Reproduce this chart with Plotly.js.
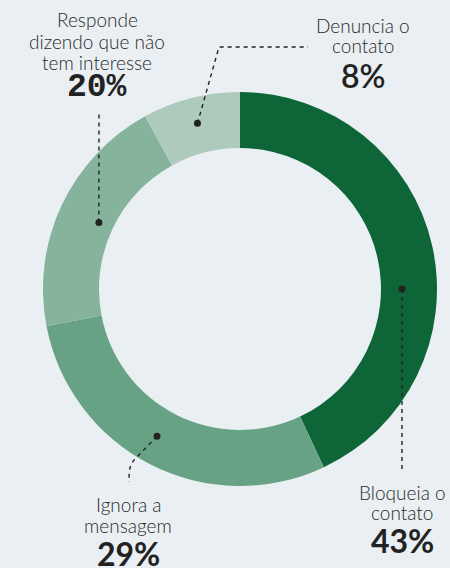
<!DOCTYPE html>
<html><head><meta charset="utf-8">
<script src="https://cdn.plot.ly/plotly-3.0.1.min.js"></script>
<style>html,body{margin:0;padding:0;background:#e9eff2;}#chart{width:450px;height:568px;}</style>
</head><body><div id="chart"></div>
<script>
// ---- data ----
const categories = ["Bloqueia o contato", "Ignora a mensagem", "Responde dizendo que não tem interesse", "Denuncia o contato"];
const values = [43, 29, 20, 8];
const labelLines = [["Bloqueia o", "contato"], ["Ignora a", "mensagem"], ["Responde", "dizendo que não", "tem interesse"], ["Denuncia o", "contato"]];
const pctLabels = ["43%", "29%", "20%", "8%"];

// ---- style / layout config ----
const W = 450, H = 568;
const colors = ["#0e6638", "#68a284", "#86b39c", "#adcabd"];
const cx = 240, cy = 289, R = 197;
// dot placement: radius and angle shift (deg) relative to slice middle
const dotCfg = [{r:162, shift:12.6}, {r:169, shift:2.4}, {r:156, shift:0}, {r:171, shift:0}];
// leader line waypoints after the dot (pixels)
const leaderCfg = [
  [[402, 472]],
  [[136, 458], "C", [130, 464], [129, 468], [129, 482]],
  [[99, 113]],
  [[219, 47], [308, 47]]
];
// text placement: center x, first line baseline, line spacing, percent baseline
const textCfg = [
  {x:402, y0:500, dy:20, py:553},
  {x:128, y0:512, dy:21, py:566},
  {x:97,  y0:27,  dy:21.5, py:100},
  {x:363, y0:33,  dy:20, py:88}
];
const pctFont = [
  {family:"Lato", size:32, color:"#222", weight:700},
  {family:"Lato", size:32, color:"#222", weight:700},
  {family:"Liberation Mono", size:33, color:"#222", weight:700},
  {family:"Lato", size:32, color:"#222", weight:600}
];
const textFont = {family:"Lato", size:19, color:"#2a2a2a", weight:300};

// ---- compute dot positions from data ----
const total = values.reduce((a,b)=>a+b,0);
let cum = 0;
const dotX = [], dotY = [];
values.forEach((v,i)=>{
  const mid = (cum + v/2)/total*360 + dotCfg[i].shift;
  cum += v;
  const a = mid*Math.PI/180;
  dotX.push(cx + dotCfg[i].r*Math.sin(a));
  dotY.push(cy - dotCfg[i].r*Math.cos(a));
});

const shapes = [];
leaderCfg.forEach((pts,i)=>{
  let d = `M${dotX[i]},${dotY[i]}`;
  let mode = "L";
  let buf = [];
  pts.forEach(p=>{
    if (p === "C") { mode = "C"; return; }
    if (mode === "L") d += ` L${p[0]},${p[1]}`;
    else { buf.push(p); if (buf.length===3){ d += ` C${buf[0][0]},${buf[0][1]} ${buf[1][0]},${buf[1][1]} ${buf[2][0]},${buf[2][1]}`; buf=[]; mode="L"; } }
  });
  shapes.push({type:"path", path:d, xref:"x", yref:"y", line:{color:"#222", width:1.4, dash:"4px,4px"}, layer:"above"});
});
const dotR = 3.5;
dotX.forEach((x,i)=>{
  shapes.push({type:"circle", xref:"x", yref:"y", x0:x-dotR, x1:x+dotR, y0:dotY[i]-dotR, y1:dotY[i]+dotR,
    fillcolor:"#222", line:{width:0}, layer:"above"});
});

const annotations = [];
labelLines.forEach((lines,i)=>{
  const c = textCfg[i];
  lines.forEach((t,j)=>{
    annotations.push({x:c.x, y:c.y0 + j*c.dy - 0.387*textFont.size, xref:"x", yref:"y", text:t, showarrow:false,
      xanchor:"center", yanchor:"middle", borderpad:0, font:textFont});
  });
  annotations.push({x:c.x, y:c.py - 0.387*pctFont[i].size, xref:"x", yref:"y", text:pctLabels[i], showarrow:false,
    xanchor:"center", yanchor:"middle", borderpad:0, font:pctFont[i]});
});

const data = [
  {type:"pie", values:values, labels:categories, sort:false, direction:"clockwise", rotation:0,
   hole:141/197, marker:{colors:colors, line:{width:0}}, textinfo:"none", hoverinfo:"none",
   showlegend:false,
   domain:{x:[(cx-R)/W, (cx+R)/W], y:[(H-cy-R)/H, (H-cy+R)/H]}}
];

const layout = {
  width:W, height:H, margin:{l:0,r:0,t:0,b:0},
  paper_bgcolor:"#e9eff2", plot_bgcolor:"rgba(0,0,0,0)",
  xaxis:{range:[0,W], visible:false, fixedrange:true},
  yaxis:{range:[H,0], visible:false, fixedrange:true},
  shapes:shapes, annotations:annotations, showlegend:false
};
Plotly.newPlot("chart", data, layout, {staticPlot:true});
</script></body></html>
